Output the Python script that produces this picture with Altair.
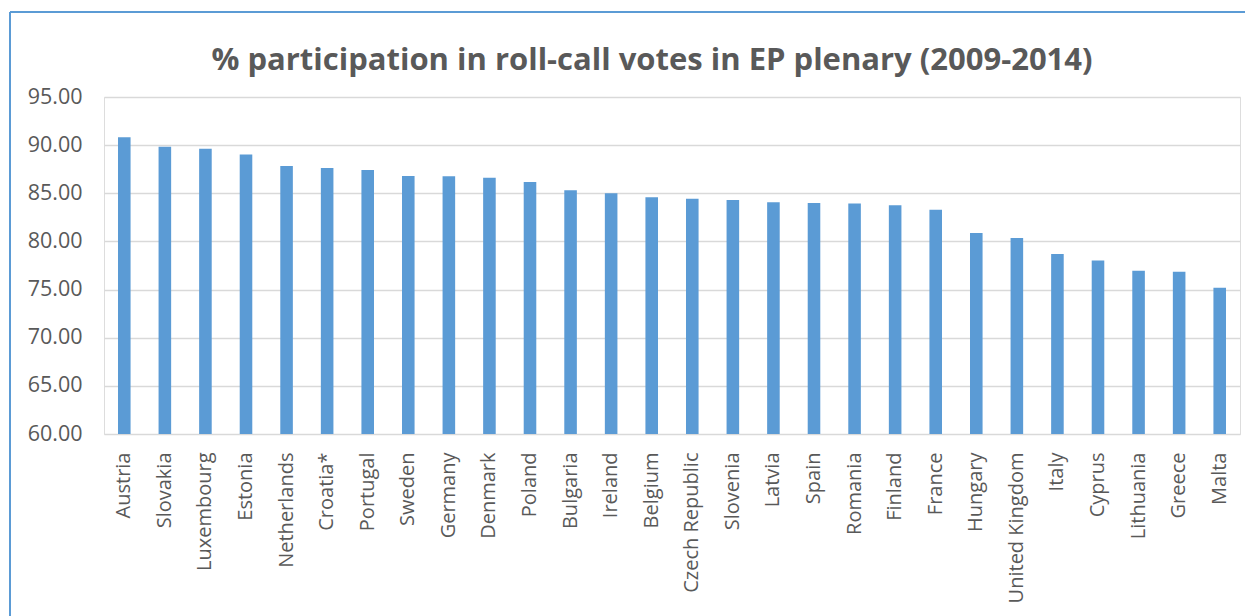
import altair as alt
import pandas as pd

# Member states ordered by participation rate
countries = [
    "Austria", "Slovakia", "Luxembourg", "Estonia", "Netherlands", "Croatia*",
    "Portugal", "Sweden", "Germany", "Denmark", "Poland", "Bulgaria", "Ireland",
    "Belgium", "Czech Republic", "Slovenia", "Latvia", "Spain", "Romania",
    "Finland", "France", "Hungary", "United Kingdom", "Italy", "Cyprus",
    "Lithuania", "Greece", "Malta",
]
participation = [
    90.83, 89.83, 89.62, 89.04, 87.83, 87.62,
    87.41, 86.79, 86.76, 86.62, 86.17, 85.31, 85.00,
    84.59, 84.42, 84.31, 84.07, 84.00, 83.93,
    83.76, 83.30, 80.87, 80.35, 78.69, 78.02,
    76.95, 76.84, 75.18,
]
y_ticks = [60, 65, 70, 75, 80, 85, 90, 95]
title_text = ["% participation in roll-call votes in EP plenary (2009-2014)"]

df = pd.DataFrame({"country": countries, "pct": participation})
title_df = pd.DataFrame({"title": title_text})

TEXT = "#595959"
FONT = "Open Sans"
BLUE = "#5B9BD5"

bars = alt.Chart(df).mark_bar(color=BLUE, clip=True).encode(
    x=alt.X(
        "country:N",
        sort=countries,
        title=None,
        scale=alt.Scale(paddingInner=0.69, paddingOuter=0.345),
        axis=alt.Axis(
            labelAngle=-90,
            labelAlign="right",
            labelBaseline="middle",
            labelFont=FONT,
            labelFontSize=20,
            labelColor=TEXT,
            labelPadding=18,
            ticks=False,
            domain=False,
            labelOverlap=False,
        ),
    ),
    y=alt.Y(
        "pct:Q",
        title=None,
        scale=alt.Scale(domain=[60, 95], nice=False, zero=False),
        axis=alt.Axis(
            values=y_ticks,
            format=".2f",
            labelFont=FONT,
            labelFontSize=21.5,
            labelColor=TEXT,
            labelPadding=22,
            ticks=False,
            domain=False,
            grid=True,
            gridColor="#D9D9D9",
            gridWidth=1.5,
        ),
    ),
)

# Chart heading, centred a little left of the plot middle
heading = alt.Chart(title_df).mark_text(
    font=FONT,
    fontSize=31,
    fontWeight="bold",
    color=TEXT,
    align="center",
    baseline="alphabetic",
).encode(text="title:N", x=alt.value(548), y=alt.value(-27))

# Outer chart frame (left and top edges)
frame_left = alt.Chart(title_df).mark_rule(color=BLUE, strokeWidth=2).encode(
    x=alt.value(-94), y=alt.value(-85), y2=alt.value(530)
)
frame_top = alt.Chart(title_df).mark_rule(color=BLUE, strokeWidth=2).encode(
    x=alt.value(-94), x2=alt.value(1160), y=alt.value(-85)
)

chart = (
    alt.layer(frame_left, frame_top, bars, heading)
    .properties(
        width=1136,
        height=337,
        autosize=alt.AutoSizeParams(type="none"),
        padding={"left": 104, "top": 97, "right": 5, "bottom": 182},
    )
    .configure_view(stroke=None)
    .configure(background="white")
)

chart.save("out.html", embed_options={"renderer": "svg", "actions": False})
